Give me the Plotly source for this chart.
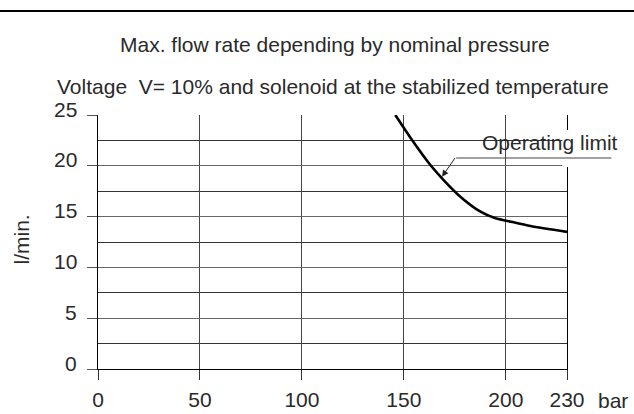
import plotly.graph_objects as go

# Data
pressure_bar = [145.8, 154.0, 163.0, 169.5, 177.7, 187.6, 194.9, 200.2, 212.1, 230.0]
flow_lmin = [25.0, 22.54, 20.08, 18.6, 16.96, 15.48, 14.83, 14.6, 14.07, 13.5]
x_ticks = [0, 50, 100, 150, 200, 230]
y_ticks = [0, 5, 10, 15, 20, 25]
title1 = "Max. flow rate depending by nominal pressure"
title2 = "Voltage  V= 10% and solenoid at the stabilized temperature"
curve_label = "Operating limit"
x_unit = "bar"
y_unit = "l/min."
arrow_point = (168.7, 18.93)

FONT = "Liberation Sans, Arial, sans-serif"
TXT = "#2a2a2a"
FS = 21

fig = go.Figure()
fig.add_trace(go.Scatter(
    x=pressure_bar, y=flow_lmin, mode="lines",
    line=dict(color="black", width=2.6, shape="spline", smoothing=0.7),
    hoverinfo="skip", showlegend=False, cliponaxis=True,
))

fig.update_layout(
    width=634, height=414,
    margin=dict(l=98, r=67, t=115, b=45, autoexpand=False),
    paper_bgcolor="white", plot_bgcolor="white",
    font=dict(family=FONT, size=FS, color=TXT),
    showlegend=False,
)
fig.update_xaxes(
    range=[0, 230], tickvals=x_ticks, ticktext=[str(v) for v in x_ticks],
    ticks="outside", ticklen=10, tickcolor="#333", tickwidth=1,
    showgrid=True, gridcolor="#444", gridwidth=1,
    showline=True, linecolor="black", linewidth=1,
    zeroline=False, ticklabelstandoff=2, automargin=False,
    tickfont=dict(family=FONT, size=FS, color=TXT),
)
fig.update_yaxes(
    range=[0, 25], tickvals=y_ticks, showticklabels=False,
    ticks="outside", ticklen=10, tickcolor="#555", tickwidth=1,
    showgrid=True, gridcolor="#666", gridwidth=1,
    minor=dict(dtick=2.5, showgrid=True, gridcolor="#333", gridwidth=1, ticks=""),
    showline=True, linecolor="black", linewidth=1, mirror=True,
    zeroline=False, automargin=False,
)

# y tick labels (drawn slightly above their lines as in the reference)
for v in y_ticks:
    fig.add_annotation(x=0, y=v, xref="paper", yref="y", text=str(v),
                       showarrow=False, xanchor="right", yanchor="middle",
                       xshift=-19, yshift=6, font=dict(size=FS, color=TXT, family=FONT))

# axis units
fig.add_annotation(x=1.099, y=0, xref="paper", yref="paper", text=x_unit, showarrow=False,
                   xanchor="center", yanchor="middle", yshift=-31,
                   font=dict(size=FS, color=TXT, family=FONT))
fig.add_annotation(x=-0.163, y=0.508, xref="paper", yref="paper", text=y_unit,
                   textangle=-90, showarrow=False, xanchor="center", yanchor="middle",
                   font=dict(size=FS, color=TXT, family=FONT))

# titles
fig.add_annotation(x=0.505, y=1.2756, xref="paper", yref="paper", text=title1,
                   showarrow=False, xanchor="center", yanchor="middle",
                   font=dict(size=FS, color=TXT, family=FONT))
fig.add_annotation(x=0.502, y=1.114, xref="paper", yref="paper", text=title2,
                   showarrow=False, xanchor="center", yanchor="middle",
                   font=dict(size=FS, color=TXT, family=FONT))

# top rule
fig.add_shape(type="line", xref="paper", yref="paper", x0=-0.25, x1=1.2,
              y0=1.409, y1=1.409, line=dict(color="black", width=2))

# gap in right border behind label, then leader line
fig.add_shape(type="rect", xref="paper", yref="paper", x0=0.99, x1=1.01,
              y0=0.795, y1=0.941, line=dict(width=0), fillcolor="white", layer="above")
fig.add_shape(type="line", xref="paper", yref="paper", x0=0.7637, x1=1.0946,
              y0=0.8307, y1=0.8307, line=dict(color="#444", width=1), layer="above")

# label + arrow
fig.add_annotation(x=0.964, y=0.891, xref="paper", yref="paper", text=curve_label,
                   showarrow=False, xanchor="center", yanchor="middle",
                   font=dict(size=FS, color=TXT, family=FONT))
fig.add_annotation(x=arrow_point[0], y=arrow_point[1], xref="x", yref="y", text="",
                   showarrow=True, ax=14, ay=-20, arrowhead=2, arrowsize=1.3,
                   arrowwidth=1, arrowcolor="#222", standoff=0)

fig.write_html(
    "out.html",
    config={"displayModeBar": False, "staticPlot": True},
    post_script="document.body.style.margin='0';document.body.style.overflow='hidden';",
)
